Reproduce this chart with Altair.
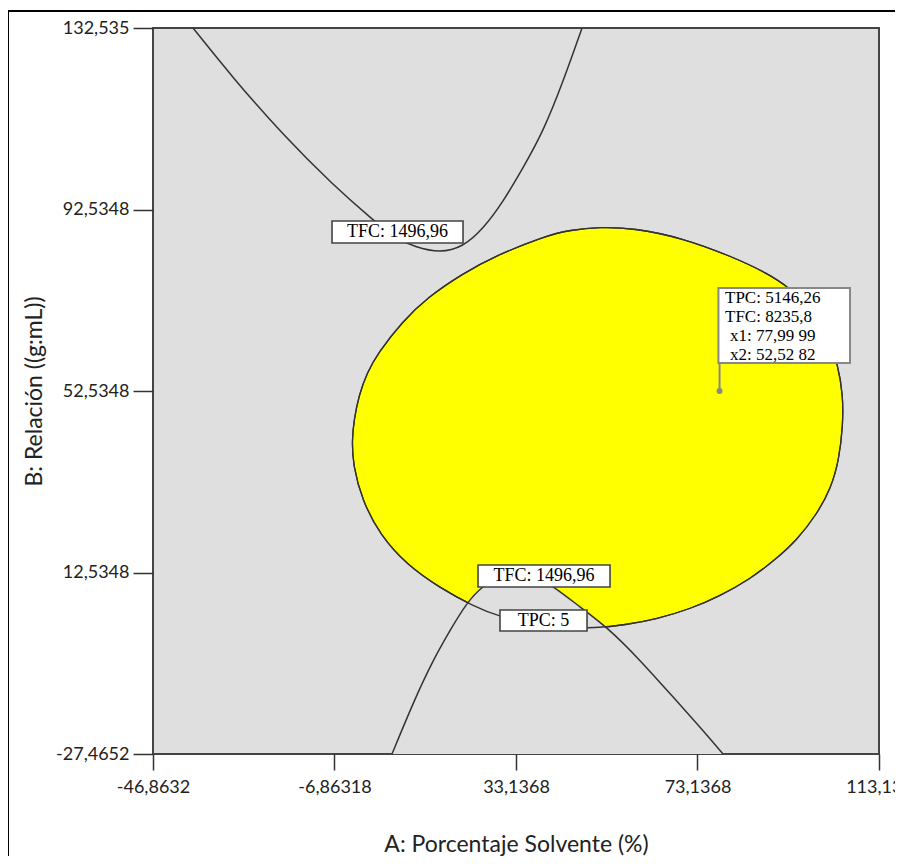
import altair as alt
import pandas as pd

# Axis ranges and tick values
X_MIN, X_MAX = -46.8632, 113.137
Y_MIN, Y_MAX = -27.4652, 132.535
x_ticks = [-46.8632, -6.86318, 33.1368, 73.1368, 113.137]
y_ticks = [-27.4652, 12.5348, 52.5348, 92.5348, 132.535]

# TPC: 5 contour (closed, bounds the yellow design space)
ellipse_x = [51.65, 58.92, 69.94, 80.96, 88.45, 93.52, 98.37, 101.90, 104.10, 105.20,
             105.20, 104.32, 102.56, 99.47, 95.07, 90.22, 84.71, 78.10, 71.48, 64.21,
             57.16, 50.55, 43.94, 37.32, 29.61, 23.66, 16.39, 9.11, 3.16, -0.80,
             -2.79, -3.01, -2.57, -1.47, 0.30, 2.72, 8.01, 13.74, 21.24, 28.51, 39.53, 45.04]
ellipse_y = [88.68, 88.46, 86.25, 82.07, 78.54, 75.24, 70.39, 64.88, 58.27, 51.65,
             45.04, 37.33, 31.16, 25.43, 19.70, 15.29, 11.10, 7.36, 4.49, 2.29,
             0.97, 0.30, 0.30, 0.97, 2.73, 5.15, 9.12, 14.19, 20.80, 28.51,
             36.23, 41.74, 46.14, 51.65, 56.50, 60.91, 67.74, 73.25, 78.32, 82.29, 86.69, 88.02]

# TFC: 1496,96 contour, upper branch
tfc_upper_x = [-38.05, -29.23, -18.21, -7.19, 1.62, 6.47, 10.88, 16.39, 21.46, 25.86,
               30.27, 34.68, 39.09, 43.50, 47.69]
tfc_upper_y = [132.535, 121.52, 108.95, 97.93, 90.22, 86.25, 84.27, 82.95, 84.27, 88.24,
               94.19, 101.68, 109.61, 120.63, 132.535]

# TFC: 1496,96 contour, lower branch
tfc_lower_x = [5.81, 10.44, 14.85, 19.03, 22.12, 25.64, 29.61, 33.36, 37.32, 41.29,
               47.24, 53.20, 60.47, 67.74, 73.69, 78.76]
tfc_lower_y = [-27.4652, -16.23, -6.75, 0.52, 5.59, 9.56, 11.54, 12.42, 11.76, 9.56,
               4.93, 0.52, -6.75, -14.91, -21.52, -27.4652]

# Contour labels
lab_text = ["TFC: 1496,96", "TFC: 1496,96", "TPC: 5"]
lab_x0 = [-7.41, 24.77, 29.61]
lab_x1 = [21.46, 53.86, 48.79]
lab_y0 = [85.15, 9.34, -0.36]
lab_y1 = [90.00, 14.19, 4.27]

# Optimum point and its info box
opt_x, opt_y = 77.9999, 52.5282
info_lines = ["TPC: 5146,26", "TFC: 8235,8", "x1: 77,99 99", "x2: 52,52 82"]
info_x = [79.20, 79.20, 80.30, 80.30]
info_y = [73.03, 68.84, 64.66, 60.47]
info_box = dict(x0=77.75, x1=106.75, y0=58.71, y1=75.23)

GRAY = "#DFDFDF"
LINE = "#333333"
CURVE = "basis"

xs = alt.Scale(domain=[X_MIN, X_MAX], nice=False, zero=False)
ys = alt.Scale(domain=[Y_MIN, Y_MAX], nice=False, zero=False)
label_expr = "replace('' + datum.value, '.', ',')"
x_axis = alt.Axis(values=x_ticks, labelExpr=label_expr, title="A: Porcentaje Solvente (%)",
                  grid=False, domain=False, tickSize=16, labelPadding=8, titlePadding=37,
                  labelFlush=False, labelOverlap=False)
y_axis = alt.Axis(values=y_ticks, labelExpr=label_expr, title="B: Relación ((g:mL))",
                  grid=False, domain=False, tickSize=20, labelPadding=4, titlePadding=9,
                  labelFlush=False, labelOverlap=False)


def X(f="x"):
    return alt.X(f"{f}:Q", scale=xs, axis=x_axis)


def Y(f="y"):
    return alt.Y(f"{f}:Q", scale=ys, axis=y_axis)


ell_df = pd.DataFrame({"x": ellipse_x, "y": ellipse_y, "o": range(len(ellipse_x))})
up_df = pd.DataFrame({"x": tfc_upper_x, "y": tfc_upper_y})
low_df = pd.DataFrame({"x": tfc_lower_x, "y": tfc_lower_y, "b": [Y_MIN] * len(tfc_lower_x)})
lab_df = pd.DataFrame({"t": lab_text, "x": lab_x0, "x2": lab_x1, "y": lab_y0, "y2": lab_y1})
lab_df["cx"] = (lab_df["x"] + lab_df["x2"]) / 2
lab_df["cy"] = (lab_df["y"] + lab_df["y2"]) / 2
info_df = pd.DataFrame({"t": info_lines, "x": info_x, "y": info_y})
box_df = pd.DataFrame({"x": [info_box["x0"]], "x2": [info_box["x1"]],
                       "y": [info_box["y0"]], "y2": [info_box["y1"]]})
opt_df = pd.DataFrame({"x": [opt_x], "y": [opt_y], "y2": [info_box["y0"]]})

frame = alt.Chart(pd.DataFrame({"a": [0]})).mark_rect(
    fillOpacity=0, stroke="black", strokeWidth=2
).encode(x=alt.value(-145), x2=alt.value(800), y=alt.value(-17), y2=alt.value(900))

ell_fill = alt.Chart(ell_df).mark_line(
    interpolate="basis-closed", fill="#FFFF00", stroke=LINE, strokeWidth=1.3
).encode(x=X(), y=Y(), order="o:Q")

wedge = alt.Chart(low_df).mark_area(color=GRAY, interpolate=CURVE).encode(
    x=X(), y=Y(), y2="b:Q")

ell_line = alt.Chart(ell_df).mark_line(
    interpolate="basis-closed", stroke=LINE, strokeWidth=1.3
).encode(x=X(), y=Y(), order="o:Q")

up_line = alt.Chart(up_df).mark_line(interpolate=CURVE, stroke=LINE, strokeWidth=1.5).encode(
    x=X(), y=Y())
low_line = alt.Chart(low_df).mark_line(interpolate=CURVE, stroke=LINE, strokeWidth=1.5).encode(
    x=X(), y=Y())

lab_box = alt.Chart(lab_df).mark_rect(fill="white", stroke="#444", strokeWidth=1.6).encode(
    x=X(), x2="x2:Q", y=Y(), y2="y2:Q")
lab_txt = alt.Chart(lab_df).mark_text(
    font="Liberation Serif", fontSize=18, color="black", align="center", baseline="middle"
).encode(x=X("cx"), y=Y("cy"), text="t:N")

leader = alt.Chart(opt_df).mark_rule(color="#888", strokeWidth=2).encode(x=X(), y=Y(), y2="y2:Q")
info_rect = alt.Chart(box_df).mark_rect(fill="white", stroke="#888", strokeWidth=2).encode(
    x=X(), x2="x2:Q", y=Y(), y2="y2:Q")
info_txt = alt.Chart(info_df).mark_text(
    font="Liberation Serif", fontSize=17, color="black", align="left", baseline="middle"
).encode(x=X(), y=Y(), text="t:N")
opt_pt = alt.Chart(opt_df).mark_point(filled=True, color="#888", size=35, opacity=1).encode(
    x=X(), y=Y())

chart = alt.layer(
    frame, ell_fill, wedge, ell_line, up_line, low_line, lab_box, lab_txt,
    leader, info_rect, info_txt, opt_pt
).properties(
    width=726, height=726,
    autosize=alt.AutoSizeParams(type="none"),
    padding={"left": 145, "top": 20, "right": 16, "bottom": 102},
).configure_view(
    fill=GRAY, stroke="#444", strokeWidth=2
).configure_axis(
    labelFont="Lato", labelFontSize=18, labelColor="#222",
    titleFont="Lato", titleFontSize=23, titleFontWeight="normal", titleColor="#222",
    tickColor="#333", tickWidth=1.5
)

chart.save("out.html", embed_options={"renderer": "svg", "actions": False})
